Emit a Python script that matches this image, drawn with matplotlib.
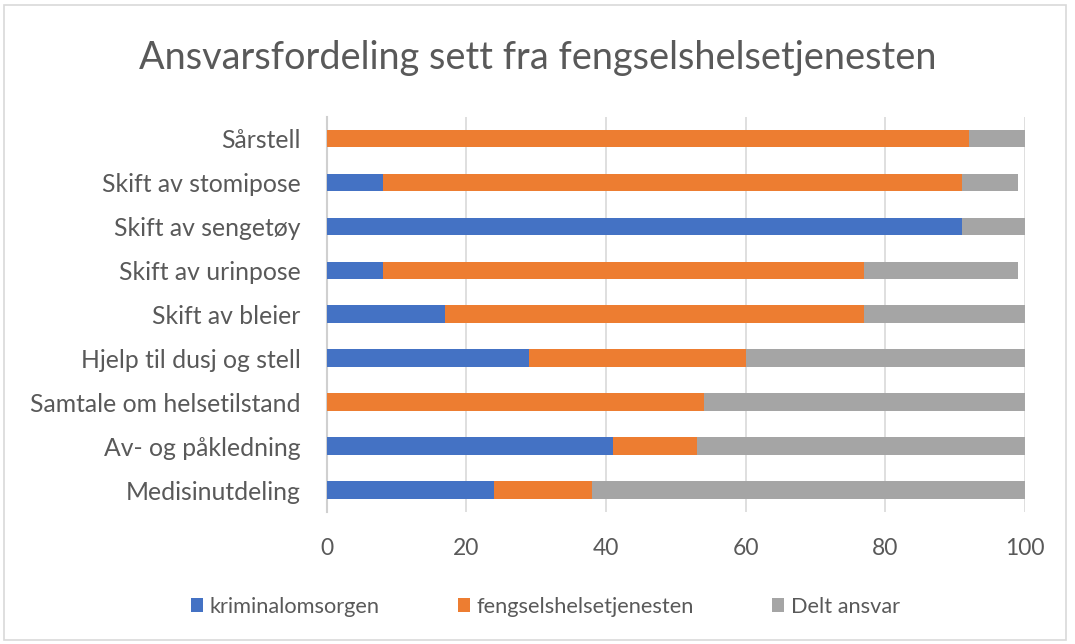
import numpy as np
import matplotlib.pyplot as plt
from matplotlib.patches import Rectangle

plt.rcParams['font.family'] = ['Lato', 'DejaVu Sans']

# data, bottom category first
categories = ['Medisinutdeling', 'Av- og påkledning', 'Samtale om helsetilstand',
              'Hjelp til dusj og stell', 'Skift av bleier', 'Skift av urinpose',
              'Skift av sengetøy', 'Skift av stomipose', 'Sårstell']
kriminalomsorgen = [24, 41, 0, 29, 17, 8, 91, 8, 0]
fengselshelse = [14, 12, 54, 31, 60, 69, 0, 83, 92]
delt_ansvar = [62, 47, 46, 40, 23, 22, 9, 8, 8]
series_names = ['kriminalomsorgen', 'fengselshelsetjenesten', 'Delt ansvar']
colors = ['#4472c4', '#ed7d31', '#a5a5a5']

fig = plt.figure(figsize=(10.75, 6.44), dpi=100)
ax = fig.add_axes([0.304, 0.205, 0.6495, 0.614])

y = np.arange(len(categories))
left = np.zeros(len(categories))
for vals, name, c in zip([kriminalomsorgen, fengselshelse, delt_ansvar], series_names, colors):
    vals = np.array(vals, dtype=float)
    ax.barh(y, vals, left=left, height=0.4, color=c, label=name, zorder=3)
    left += vals

ax.set_xlim(0, 100)
ax.set_ylim(-0.5, len(categories) - 0.5)
ax.set_xticks(np.arange(0, 101, 20))
ax.set_yticks(y)
ax.set_yticklabels(categories)
ax.tick_params(axis='both', length=0, colors='#595959')
ax.tick_params(axis='x', pad=19, labelsize=16.5)
ax.tick_params(axis='y', pad=19, labelsize=17.8)
ax.grid(axis='x', color='#d9d9d9', linewidth=1.2, zorder=0)
for s in ['top', 'right', 'bottom']:
    ax.spines[s].set_visible(False)
ax.spines['left'].set_color('#d0d0d0')
ax.spines['left'].set_linewidth(1.5)

fig.text(0.5, 0.91, 'Ansvarsfordeling sett fra fengselshelsetjenesten',
         ha='center', va='center', fontsize=27.3, color='#595959')

fig.legend(loc='center', bbox_to_anchor=(0.507, 0.058), ncol=3, frameon=False,
           fontsize=15.7, labelcolor='#595959', handlelength=0.55, handleheight=0.55,
           handletextpad=0.3, columnspacing=3.6)

fig.patches.append(Rectangle((0.004, 0.006), 0.988, 0.987, transform=fig.transFigure,
                             fill=False, edgecolor='#d9d9d9', linewidth=1.2))

fig.savefig('out.png', dpi=100)
